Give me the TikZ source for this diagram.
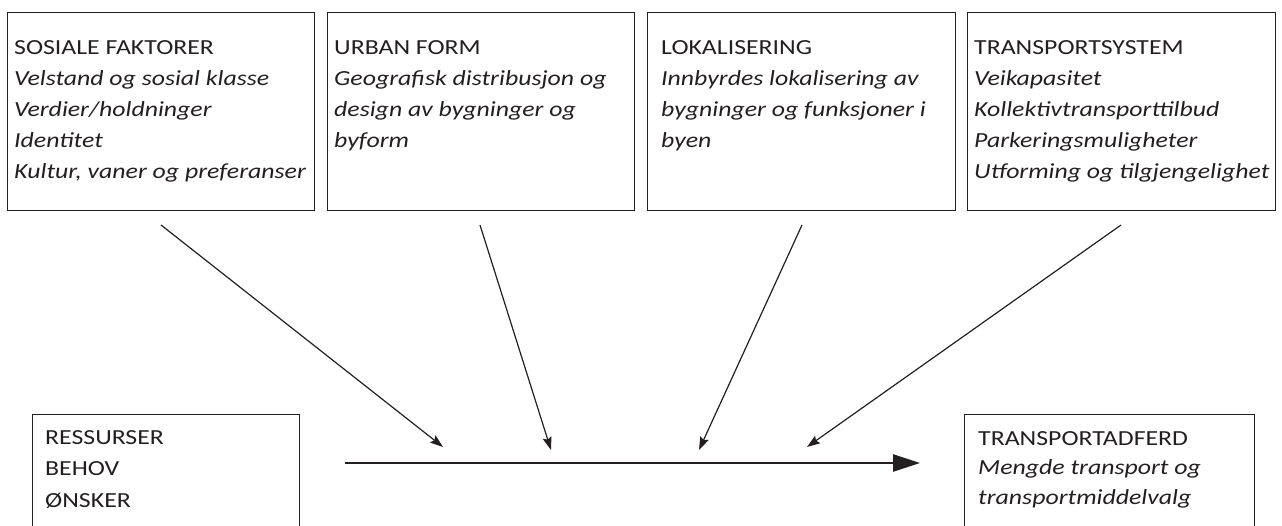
\documentclass[tikz,border=0pt]{standalone}
\usepackage{fontspec}
\setmainfont{Carlito}[FakeStretch=1.2]
\usetikzlibrary{arrows.meta}
\definecolor{ink}{HTML}{231F20}
\begin{document}
\begin{tikzpicture}[x=1pt,y=-1pt,
  box/.style={draw=ink, line width=1.1pt, anchor=north west, inner sep=0pt},
  txt/.style={anchor=base west, inner sep=0pt, text=ink},
  thin/.style={draw=ink, line width=1.2pt, -{Stealth[length=13pt,width=9pt,inset=2pt]}},
  mainarrow/.style={draw=ink, line width=2.8pt, -{Triangle[length=27pt,width=17pt]}}]
\useasboundingbox (0,0) rectangle (1282,526);
% top boxes
\node[box, minimum width=307pt, minimum height=198pt] (sos) at (7,12) {};
\node[box, minimum width=307pt, minimum height=198pt] (urb) at (327,12) {};
\node[box, minimum width=308pt, minimum height=198pt] (lok) at (647,12) {};
\node[box, minimum width=308pt, minimum height=198pt] (tra) at (967,12) {};
% bottom boxes
\node[box, minimum width=267pt, minimum height=140pt] (res) at (32,414) {};
\node[box, minimum width=290pt, minimum height=140pt] (adf) at (964,414) {};
% texts
\node[txt] (sost) at (14,55) {\parbox[t]{300pt}{\fontsize{21.5}{31}\selectfont
  SOSIALE FAKTORER\\ \itshape Velstand og sosial klasse\\ Verdier/holdninger\\ Identitet\\ Kultur, vaner og preferanser\par}};
\node[txt] (urbt) at (334,55) {\parbox[t]{300pt}{\fontsize{21.5}{31}\selectfont
  URBAN FORM\\ \itshape Geografisk distribusjon og\\ design av bygninger og\\ byform\par}};
\node[txt] (lokt) at (661,55) {\parbox[t]{300pt}{\fontsize{21.5}{31}\selectfont
  LOKALISERING\\ \itshape Innbyrdes lokalisering av\\ bygninger og funksjoner i\\ byen\par}};
\node[txt] (trat) at (974,55) {\parbox[t]{300pt}{\fontsize{21.5}{31}\selectfont
  TRANSPORTSYSTEM\\ \itshape Veikapasitet\\ Kollektivtransporttilbud\\ Parkeringsmuligheter\\ Utforming og tilgjengelighet\par}};
\node[txt] (rest) at (45,444) {\parbox[t]{250pt}{\fontsize{21.5}{31.5}\selectfont
  RESSURSER\\ BEHOV\\ ØNSKER\par}};
\node[txt] (adft) at (978,445) {\parbox[t]{270pt}{\fontsize{21.5}{29.5}\selectfont
  TRANSPORTADFERD\\ \itshape Mengde transport og\\ transportmiddelvalg\par}};
% connector end points
\coordinate (a1s) at (161,225); \coordinate (a1e) at (443,447);
\coordinate (a2s) at (480,225); \coordinate (a2e) at (551,450);
\coordinate (a3s) at (802,225); \coordinate (a3e) at (699,450);
\coordinate (a4s) at (1121,225); \coordinate (a4e) at (807,447);
\coordinate (ms) at (345,463); \coordinate (me) at (920,463);
\draw[thin] (a1s) -- (a1e);
\draw[thin] (a2s) -- (a2e);
\draw[thin] (a3s) -- (a3e);
\draw[thin] (a4s) -- (a4e);
\draw[mainarrow] (ms) -- (me);
\end{tikzpicture}
\end{document}
